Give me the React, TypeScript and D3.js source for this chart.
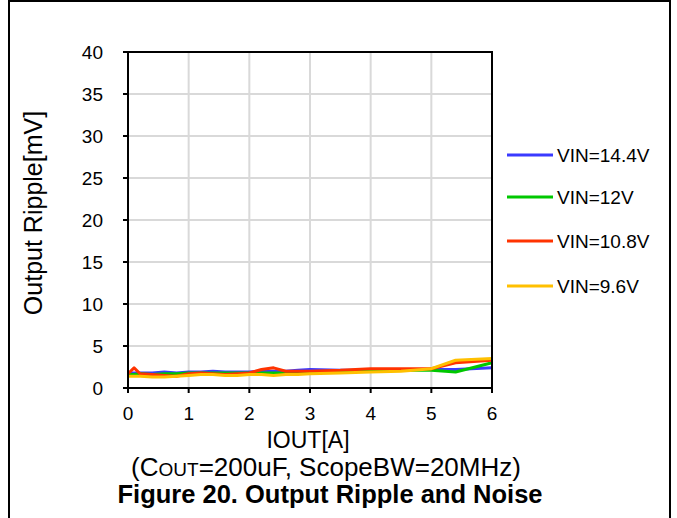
import React from "react";
import * as d3 from "d3";

const iout = [0, 0.1, 0.2, 0.4, 0.6, 0.8, 1.0, 1.2, 1.4, 1.6, 1.8, 2.0, 2.2, 2.4, 2.6, 2.8, 3.0, 3.5, 4.0, 4.5, 5.0, 5.4, 6.0];
const vin144 = [1.8, 1.8, 1.8, 1.8, 1.9, 1.8, 1.9, 1.9, 2.0, 1.9, 1.9, 1.9, 2.0, 2.0, 2.0, 2.1, 2.2, 2.1, 2.1, 2.2, 2.2, 2.2, 2.4];
const vin12 = [1.6, 1.6, 1.7, 1.6, 1.7, 1.7, 1.8, 1.8, 1.8, 1.8, 1.8, 1.8, 1.8, 1.8, 1.8, 1.9, 1.9, 2.0, 2.0, 2.1, 2.1, 1.9, 3.0];
const vin108 = [1.7, 2.4, 1.7, 1.6, 1.5, 1.4, 1.7, 1.8, 1.7, 1.6, 1.7, 1.8, 2.2, 2.4, 2.0, 2.0, 2.0, 2.1, 2.3, 2.3, 2.3, 3.0, 3.3];
const vin96 = [1.4, 1.4, 1.4, 1.3, 1.3, 1.4, 1.5, 1.6, 1.6, 1.5, 1.5, 1.6, 1.6, 1.5, 1.6, 1.6, 1.7, 1.8, 1.9, 2.0, 2.3, 3.3, 3.5];

const seriesNames = ["VIN=14.4V", "VIN=12V", "VIN=10.8V", "VIN=9.6V"];
const seriesColors = ["#3a3aff", "#00c800", "#ff3300", "#ffc000"];
const seriesValues = [vin144, vin12, vin108, vin96];

const xTicks = [0, 1, 2, 3, 4, 5, 6];
const yTicks = [0, 5, 10, 15, 20, 25, 30, 35, 40];

export default function App() {
  const x = d3.scaleLinear().domain([0, 6]).range([128, 492]);
  const y = d3.scaleLinear().domain([0, 40]).range([388, 52]);
  const line = d3
    .line<[number, number]>()
    .x((d) => x(d[0]))
    .y((d) => y(d[1]));
  const font = "Arial, 'Liberation Sans', sans-serif";
  const legendY = [155, 197, 241, 286];

  return (
    <svg
      width={677}
      height={518}
      style={{ position: "fixed", left: 0, top: 0, background: "#fff" }}
      fontFamily={font}
    >
      <rect x={0} y={0} width={677} height={518} fill="#fff" />
      {/* outer frame */}
      <line x1={8} y1={1} x2={671} y2={1} stroke="#000" strokeWidth={2} />
      <line x1={9} y1={0} x2={9} y2={518} stroke="#000" strokeWidth={2} />
      <line x1={670} y1={0} x2={670} y2={518} stroke="#000" strokeWidth={2} />

      {/* grid */}
      {xTicks.slice(1, -1).map((t) => (
        <line key={"gx" + t} x1={x(t)} x2={x(t)} y1={y(40)} y2={y(0)} stroke="#d9d9d9" strokeWidth={2} />
      ))}
      {yTicks.slice(1, -1).map((t) => (
        <line key={"gy" + t} x1={x(0)} x2={x(6)} y1={y(t)} y2={y(t)} stroke="#d9d9d9" strokeWidth={2} />
      ))}

      {/* series */}
      {seriesValues.map((vals, i) => (
        <path
          key={seriesNames[i]}
          d={line(iout.map((v, j) => [v, vals[j]] as [number, number])) || ""}
          fill="none"
          stroke={seriesColors[i]}
          strokeWidth={3}
          strokeLinejoin="round"
        />
      ))}

      {/* plot frame */}
      <rect x={x(0)} y={y(40)} width={x(6) - x(0)} height={y(0) - y(40)} fill="none" stroke="#000" strokeWidth={2} />

      {/* ticks */}
      {yTicks.map((t) => (
        <g key={"yt" + t}>
          <line x1={x(0) - 5} x2={x(0)} y1={y(t)} y2={y(t)} stroke="#000" strokeWidth={2} />
          <text x={103} y={y(t)} dy="0.35em" textAnchor="end" fontSize={19} fill="#000">
            {t}
          </text>
        </g>
      ))}
      {xTicks.map((t) => (
        <g key={"xt" + t}>
          <line x1={x(t)} x2={x(t)} y1={y(0)} y2={y(0) + 5} stroke="#000" strokeWidth={2} />
          <text x={x(t)} y={413} dy="0.35em" textAnchor="middle" fontSize={19} fill="#000">
            {t}
          </text>
        </g>
      ))}

      {/* axis titles */}
      <text x={308} y={440} dy="0.35em" textAnchor="middle" fontSize={23} fill="#000">
        IOUT[A]
      </text>
      <text
        transform={`translate(33,213) rotate(-90)`}
        dy="0.35em"
        textAnchor="middle"
        fontSize={25}
        fill="#000"
      >
        Output Ripple[mV]
      </text>
      <text x={326} y={467} dy="0.35em" textAnchor="middle" fontSize={26} fill="#000">
        (C<tspan fontSize={19}>OUT</tspan>=200uF, ScopeBW=20MHz)
      </text>
      <text x={330} y={494} dy="0.35em" textAnchor="middle" fontSize={25.5} fontWeight="bold" fill="#000">
        Figure 20. Output Ripple and Noise
      </text>

      {/* legend */}
      {seriesNames.map((n, i) => (
        <g key={"lg" + n}>
          <line x1={507} x2={553} y1={legendY[i]} y2={legendY[i]} stroke={seriesColors[i]} strokeWidth={3} />
          <text x={557} y={legendY[i]} dy="0.35em" fontSize={19} fill="#000">
            {n}
          </text>
        </g>
      ))}
    </svg>
  );
}
